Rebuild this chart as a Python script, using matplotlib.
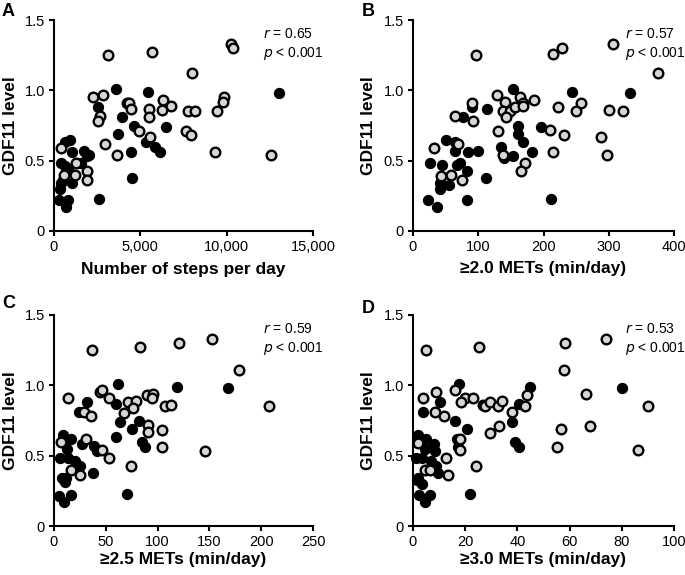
import matplotlib
matplotlib.use('Agg')
import matplotlib.pyplot as plt

plt.rcParams['font.family'] = ['Liberation Sans', 'DejaVu Sans']

# %%
# Painel A - passos por dia
a_gray_x = [3140, 5650, 10240, 10370, 8000, 2240, 2850, 9830, 9790, 9450, 7770, 8150, 4200, 4360, 4450,
            5500, 5510, 6320, 6230, 6750, 2660, 2530, 7670, 7960, 4940, 5550, 2950, 3620, 9350, 12590,
            400, 1270, 1210, 600, 1930, 1930]
a_gray_y = [1.25, 1.27, 1.33, 1.30, 1.12, 0.95, 0.97, 0.95, 0.92, 0.85, 0.85, 0.85, 0.91, 0.91, 0.87,
            0.87, 0.81, 0.93, 0.86, 0.89, 0.82, 0.78, 0.71, 0.68, 0.71, 0.67, 0.62, 0.54, 0.56, 0.54,
            0.59, 0.48, 0.40, 0.40, 0.43, 0.36]
a_black_x = [3590, 5460, 13030, 2530, 3910, 4650, 6460, 3720, 5300, 5840, 6130, 4450, 4530, 2620, 925,
             640, 1020, 400, 640, 830, 1540, 1730, 1890, 2020, 540, 400, 1020, 350, 310, 830, 680]
a_black_y = [1.01, 0.99, 0.98, 0.88, 0.81, 0.75, 0.74, 0.69, 0.63, 0.60, 0.56, 0.56, 0.38, 0.23, 0.65,
             0.63, 0.56, 0.48, 0.46, 0.44, 0.48, 0.57, 0.53, 0.54, 0.36, 0.34, 0.34, 0.30, 0.22, 0.22, 0.17]

# Painel B - >=2.0 METs
b_gray_x = [96, 215, 229, 307, 376, 128, 141, 164, 168, 186, 90, 138, 149, 143, 156, 168, 222, 257, 250,
            301, 322, 64, 92, 130, 210, 231, 288, 69, 138, 215, 298, 32, 172, 165, 43, 59, 75]
b_gray_y = [1.25, 1.26, 1.30, 1.33, 1.12, 0.97, 0.92, 0.95, 0.91, 0.93, 0.91, 0.85, 0.85, 0.81, 0.88,
            0.89, 0.88, 0.91, 0.85, 0.86, 0.85, 0.82, 0.78, 0.71, 0.72, 0.68, 0.67, 0.62, 0.54, 0.56,
            0.54, 0.59, 0.48, 0.43, 0.39, 0.40, 0.36]
b_black_x = [154, 244, 332, 91, 114, 76, 161, 196, 161, 168, 135, 183, 153, 140, 112, 211, 51, 64, 65,
             84, 100, 72, 67, 26, 45, 83, 41, 41, 55, 23, 82, 37]
b_black_y = [1.01, 0.99, 0.98, 0.88, 0.87, 0.81, 0.75, 0.74, 0.69, 0.63, 0.60, 0.56, 0.53, 0.52, 0.38,
             0.23, 0.65, 0.63, 0.57, 0.56, 0.57, 0.48, 0.47, 0.48, 0.47, 0.43, 0.34, 0.30, 0.33, 0.22,
             0.22, 0.17]

# Painel C - >=2.5 METs
c_gray_x = [36.6, 82.9, 120.8, 152.6, 178.3, 207.6, 44.3, 46.6, 13.5, 53.0, 71.3, 78.7, 76.5, 90.0, 95.7,
            94.8, 107.6, 112.5, 28.9, 35.3, 67.5, 90.9, 90.9, 104.4, 30.5, 104.4, 146.2, 6.4, 45.9,
            52.7, 73.9, 16.7, 25.1]
c_gray_y = [1.25, 1.27, 1.30, 1.33, 1.11, 0.85, 0.95, 0.97, 0.91, 0.91, 0.88, 0.89, 0.84, 0.93, 0.94,
            0.91, 0.85, 0.86, 0.81, 0.78, 0.80, 0.72, 0.67, 0.68, 0.62, 0.56, 0.53, 0.60, 0.54, 0.48,
            0.43, 0.40, 0.36]
c_black_x = [62.0, 119.2, 168.0, 31.5, 59.4, 24.1, 63.6, 81.9, 75.5, 59.4, 85.1, 87.4, 38.6, 41.8, 70.7,
             37.9, 9.0, 16.1, 10.0, 12.2, 5.8, 13.8, 20.2, 25.1, 7.4, 10.6, 5.1, 16.1, 9.6, 26.7, 11.6]
c_black_y = [1.01, 0.99, 0.98, 0.88, 0.87, 0.81, 0.74, 0.75, 0.69, 0.63, 0.60, 0.56, 0.57, 0.53, 0.23,
             0.38, 0.65, 0.62, 0.60, 0.55, 0.48, 0.48, 0.46, 0.43, 0.34, 0.31, 0.21, 0.22, 0.17, 0.58, 0.34]

# Painel D - >=3.0 METs
d_gray_x = [4.9, 25.3, 58.4, 74.1, 57.7, 90.0, 3.8, 8.9, 8.6, 11.9, 16.0, 19.8, 18.5, 23.0, 26.8, 27.7,
            29.4, 32.6, 34.2, 37.9, 42.8, 43.8, 66.1, 67.9, 56.8, 55.0, 86.2, 29.4, 33.0, 17.9, 18.1,
            12.8, 24.2, 13.4, 1.9, 4.5, 6.4]
d_gray_y = [1.25, 1.27, 1.30, 1.33, 1.11, 0.85, 0.91, 0.95, 0.81, 0.78, 0.97, 0.91, 0.88, 0.91, 0.86,
            0.85, 0.88, 0.85, 0.89, 0.81, 0.85, 0.93, 0.94, 0.71, 0.69, 0.56, 0.54, 0.66, 0.71, 0.62,
            0.54, 0.48, 0.43, 0.36, 0.59, 0.40, 0.40]
d_black_x = [17.6, 45.0, 80.1, 10.2, 40.6, 3.8, 16.0, 37.9, 20.8, 39.2, 40.6, 16.9, 17.2, 22.0, 9.6, 1.9,
             5.1, 2.6, 4.5, 8.0, 8.3, 1.3, 3.6, 7.0, 8.9, 1.9, 3.6, 2.2, 6.4, 4.5, 1.5]
d_black_y = [1.01, 0.99, 0.98, 0.88, 0.87, 0.81, 0.75, 0.74, 0.69, 0.60, 0.56, 0.62, 0.56, 0.23, 0.38,
             0.65, 0.62, 0.60, 0.55, 0.58, 0.53, 0.48, 0.48, 0.46, 0.43, 0.34, 0.30, 0.22, 0.22, 0.17, 0.33]

letters = ['A', 'B', 'C', 'D']
xlabels = ['Number of steps per day', '≥2.0 METs (min/day)', '≥2.5 METs (min/day)', '≥3.0 METs (min/day)']
xmaxes = [15000, 400, 250, 100]
xticks = [[0, 5000, 10000, 15000], [0, 100, 200, 300, 400], [0, 50, 100, 150, 200, 250], [0, 20, 40, 60, 80, 100]]
xticklabels = [['0', '5,000', '10,000', '15,000'], ['0', '100', '200', '300', '400'],
               ['0', '50', '100', '150', '200', '250'], ['0', '20', '40', '60', '80', '100']]
yticks = [0, 0.5, 1.0, 1.5]
yticklabels = ['0', '0.5', '1.0', '1.5']
r_vals = ['0.65', '0.57', '0.59', '0.53']

gray_x = [a_gray_x, b_gray_x, c_gray_x, d_gray_x]
gray_y = [a_gray_y, b_gray_y, c_gray_y, d_gray_y]
black_x = [a_black_x, b_black_x, c_black_x, d_black_x]
black_y = [a_black_y, b_black_y, c_black_y, d_black_y]

# %%
W, H = 685, 575
fig = plt.figure(figsize=(W / 100, H / 100), dpi=100)

# posicoes em pixels (esquerda, topo, largura, altura) de cada painel
boxes = [(54, 20, 259, 211), (413, 20, 261, 211), (54, 315, 259, 211), (413, 315, 261, 211)]
letter_pos = [(2, 3), (362, 3), (2, 295), (362, 300)]
xlabel_y = [-0.145, -0.14, -0.125, -0.125]

for i in range(4):
    l, t, w, h = boxes[i]
    ax = fig.add_axes([l / W, 1 - (t + h) / H, w / W, h / H])
    ax.scatter(black_x[i], black_y[i], s=48, c='black', edgecolors='black', linewidths=1.2,
               zorder=3, clip_on=False)
    ax.scatter(gray_x[i], gray_y[i], s=48, c='#d6d6d6', edgecolors='black', linewidths=1.7,
               zorder=3, clip_on=False)
    ax.set_xlim(0, xmaxes[i])
    ax.set_ylim(0, 1.5)
    ax.set_xticks(xticks[i])
    ax.set_xticklabels(xticklabels[i])
    ax.set_yticks(yticks)
    ax.set_yticklabels(yticklabels)
    for s in ['top', 'right']:
        ax.spines[s].set_visible(False)
    for s in ['left', 'bottom']:
        ax.spines[s].set_linewidth(1.5)
    ax.tick_params(direction='out', length=3.5, width=1.5, labelsize=10.5, pad=3, colors='black')
    ax.set_xlabel(xlabels[i], fontsize=12.5, fontweight='bold', va='top')
    ax.xaxis.set_label_coords(0.5, xlabel_y[i])
    ax.set_ylabel('GDF11 level', fontsize=12.5, fontweight='bold')
    ax.yaxis.set_label_coords(-0.14, 0.5)
    tx = 0.807 if i % 2 == 0 else 0.812
    ax.text(tx, 0.965, '$\\it{r}$ = ' + r_vals[i] + '\n$\\it{p}$ < 0.001', transform=ax.transAxes,
            fontsize=10, va='top', ha='left', linespacing=1.3)
    lx, ly = letter_pos[i]
    fig.text(lx / W, 1 - ly / H, letters[i], fontsize=13, fontweight='bold', va='top', ha='left')

plt.savefig('out.png', dpi=100)
